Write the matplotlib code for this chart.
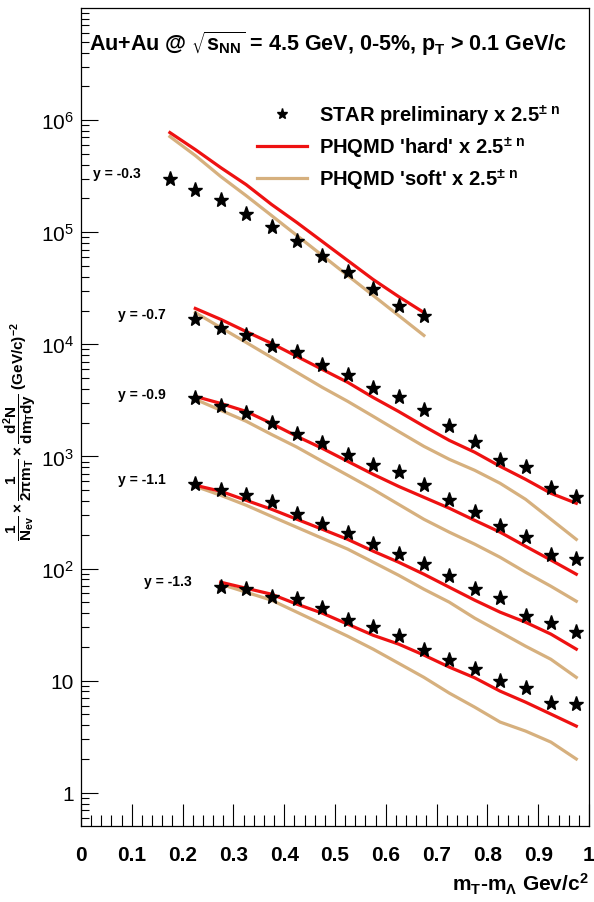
import math
import matplotlib
matplotlib.use('Agg')
import matplotlib.pyplot as plt
from matplotlib.lines import Line2D
from matplotlib.ticker import FixedLocator, MultipleLocator, FuncFormatter, NullFormatter

plt.rcParams['font.family'] = ['Liberation Sans', 'DejaVu Sans']
plt.rcParams['mathtext.default'] = 'regular'

# m_T - m_Lambda points (GeV/c^2)
x_03 = [0.175, 0.225, 0.275, 0.325, 0.375, 0.425, 0.475, 0.525, 0.575, 0.625, 0.675]
x_07 = [0.225, 0.275, 0.325, 0.375, 0.425, 0.475, 0.525, 0.575, 0.625, 0.675,
        0.725, 0.775, 0.825, 0.875, 0.925, 0.975]
x_13 = [0.275, 0.325, 0.375, 0.425, 0.475, 0.525, 0.575, 0.625, 0.675,
        0.725, 0.775, 0.825, 0.875, 0.925, 0.975]

# y = -0.3
star_03 = [3.01e5, 2.37e5, 1.93e5, 1.46e5, 1.11e5, 8.31e4, 6.11e4, 4.46e4, 3.13e4, 2.19e4, 1.78e4]
hard_03 = [7.74e5, 5.46e5, 3.77e5, 2.66e5, 1.77e5, 1.22e5, 8.26e4, 5.59e4, 3.79e4, 2.67e4, 1.92e4]
soft_03 = [7.13e5, 4.83e5, 3.14e5, 2.12e5, 1.41e5, 9.35e4, 6.2e4, 4.11e4, 2.73e4, 1.81e4, 1.2e4]

# y = -0.7
star_07 = [1.67e4, 1.39e4, 1.2e4, 9.71e3, 8.52e3, 6.52e3, 5.28e3, 4.05e3, 3.41e3, 2.59e3,
           1.87e3, 1.35e3, 932, 811, 520, 438]
hard_07 = [2.09e4, 1.67e4, 1.30e4, 1.02e4, 7.8e3, 5.97e3, 4.58e3, 3.36e3, 2.52e3, 1.86e3,
           1.39e3, 1.09e3, 816, 625, 469, 382]
soft_07 = [1.92e4, 1.41e4, 1.04e4, 7.64e3, 5.62e3, 4.13e3, 3.10e3, 2.28e3, 1.67e3, 1.23e3,
           942, 752, 576, 415, 275, 182]

# y = -0.9
star_09 = [3.29e3, 2.81e3, 2.46e3, 2.0e3, 1.6e3, 1.33e3, 1.02e3, 838, 722, 553,
           406, 320, 240, 192, 133, 121]
hard_09 = [3.43e3, 2.97e3, 2.52e3, 1.97e3, 1.51e3, 1.18e3, 904, 693, 541, 432,
           345, 269, 211, 158, 119, 89]
soft_09 = [3.23e3, 2.58e3, 2.06e3, 1.57e3, 1.21e3, 904, 679, 509, 374, 275,
           211, 165, 126, 92.7, 69.5, 51.1]

# y = -1.1
star_11 = [564, 502, 450, 392, 305, 248, 209, 164, 134, 109,
           85.9, 65.4, 54.9, 37.6, 32.7, 26.9]
hard_11 = [553, 489, 406, 338, 275, 224, 182, 143, 114, 89,
           68.1, 52.2, 40.8, 33.2, 26.0, 19.1]
soft_11 = [541, 450, 367, 292, 233, 186, 149, 114, 87.2, 65.4,
           50.1, 36.1, 27.1, 20.3, 15.5, 10.7]

# y = -1.3
star_13 = [68.5, 66.3, 55.8, 53.2, 44.0, 34.6, 29.8, 25.1, 18.7,
           15.3, 12.8, 9.84, 8.52, 6.30, 6.17]
hard_13 = [75.5, 66.7, 59.0, 48.1, 40.0, 31.9, 25.4, 21.2, 16.9,
           13.2, 10.6, 8.06, 6.43, 5.03, 3.93]
soft_13 = [72.5, 61.5, 52.2, 40.8, 31.9, 24.9, 19.1, 14.3, 10.7,
           7.74, 5.80, 4.27, 3.55, 2.83, 2.0]

rap_labels = ['y = -0.3', 'y = -0.7', 'y = -0.9', 'y = -1.1', 'y = -1.3']

red = '#ee1111'
tan = '#d6b07e'

fig = plt.figure(figsize=(5.94, 9.03), dpi=100)
ax = fig.add_axes([81/594, 1 - 827/903, 508/594, 818/903])
ax.set_yscale('log')
ax.set_xlim(0, 1)
ax.set_ylim(0.505, 1.0e7)

rows = [(x_03, star_03, hard_03, soft_03),
        (x_07, star_07, hard_07, soft_07),
        (x_07, star_09, hard_09, soft_09),
        (x_07, star_11, hard_11, soft_11),
        (x_13, star_13, hard_13, soft_13)]
for xs, st, hd, sf in rows:
    ax.plot(xs, sf, color=tan, lw=2.3, zorder=2)
    ax.plot(xs, hd, color=red, lw=2.3, zorder=3)
    ax.plot(xs, st, ls='none', marker='*', color='k', ms=11, zorder=4)

# etiquettes de rapidite
lab_pos = [(0.024, 3.4e5), (0.073, 1.85e4), (0.073, 3.58e3), (0.073, 625), (0.124, 77)]
for (lx, ly), txt in zip(lab_pos, rap_labels):
    ax.text(lx, ly, txt, fontsize=10, fontweight='bold', ha='left', va='center')

# axes / ticks
ax.xaxis.set_major_locator(MultipleLocator(0.1))
ax.xaxis.set_minor_locator(MultipleLocator(0.02))
ax.xaxis.set_major_formatter(FuncFormatter(lambda v, p: '%g' % round(v, 1)))
ax.yaxis.set_major_locator(FixedLocator([1, 10, 1e2, 1e3, 1e4, 1e5, 1e6]))
minors = [m * 10**e for e in range(-1, 7) for m in range(2, 10)]
ax.yaxis.set_minor_locator(FixedLocator(minors))
ax.yaxis.set_minor_formatter(NullFormatter())


def ylab(v, p):
    if v < 5:
        return '1'
    if v < 50:
        return '10'
    return r'$10^{%d}$' % round(math.log10(v))


ax.yaxis.set_major_formatter(FuncFormatter(ylab))
ax.tick_params(axis='x', which='major', direction='in', length=16, width=0.8, pad=14,
               labelsize=15, top=False)
ax.tick_params(axis='x', which='minor', direction='in', length=8, width=0.8, top=False)
ax.tick_params(axis='y', which='major', direction='in', length=12, width=0.8, pad=5,
               labelsize=15, right=False)
ax.tick_params(axis='y', which='minor', direction='in', length=6, width=0.8, right=False)
for t in ax.get_xticklabels():
    t.set_fontweight('bold')
for s in ax.spines.values():
    s.set_linewidth(0.9)

ax.text(1.0, -0.07, r'm$_T$-m$_\Lambda$ Gev/c$^2$', transform=ax.transAxes,
        ha='right', va='center', fontsize=15, fontweight='bold')

ax.set_ylabel(r'$\dfrac{1}{N_{ev}}\times\dfrac{1}{2\pi m_T}\times\dfrac{d^2N}{dm_T dy}$ (GeV/c)$^{-2}$',
              fontsize=11, fontweight='bold')
ax.yaxis.set_label_coords(-0.083, 0.483)

ax.text(0.486, 0.958, r'Au+Au @ $\sqrt{s_{NN}}$ = 4.5 GeV, 0-5%, p$_T$ > 0.1 GeV/c',
        transform=ax.transAxes, ha='center', va='center', fontsize=15.5, fontweight='bold')

handles = [Line2D([], [], ls='none', marker='*', color='k', ms=8),
           Line2D([], [], color=red, lw=2.3),
           Line2D([], [], color=tan, lw=2.3)]
labels = [r'STAR preliminary x 2.5$^{\pm\ n}$',
          r"PHQMD 'hard' x 2.5$^{\pm\ n}$",
          r"PHQMD 'soft' x 2.5$^{\pm\ n}$"]
ax.legend(handles, labels, loc='upper left', bbox_to_anchor=(0.346, 0.885), frameon=False,
          prop={'size': 14.5, 'weight': 'bold'}, handlelength=2.5, handletextpad=0.6,
          labelspacing=0.37, borderpad=0, borderaxespad=0)

fig.savefig('out.png', dpi=100)
